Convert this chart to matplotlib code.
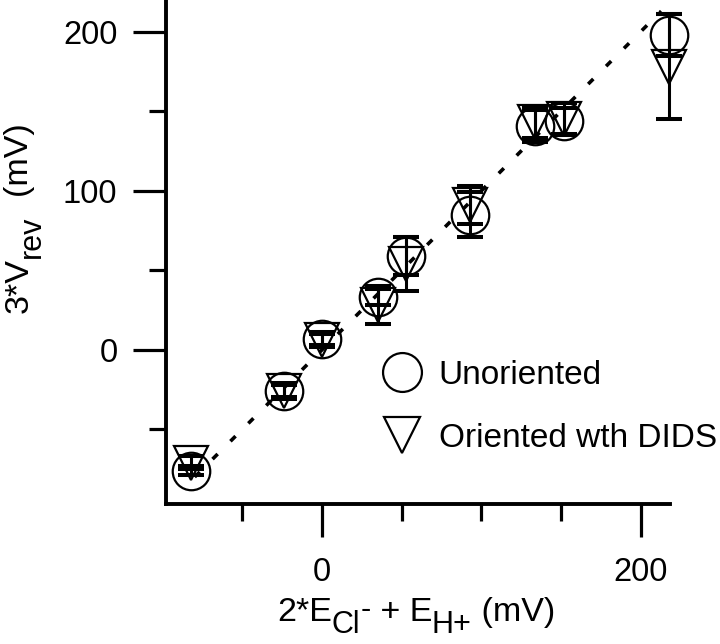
import matplotlib
matplotlib.use("Agg")
import matplotlib.pyplot as plt
from matplotlib.lines import Line2D
from matplotlib.ticker import MultipleLocator

plt.rcParams['font.family'] = ['Liberation Sans', 'DejaVu Sans']

# data
x_vals = [-82, -24, 0, 35, 53, 93, 134, 152, 218]
unoriented_y = [-76, -26, 7, 33, 59, 85, 141, 144, 198]
unoriented_err = [3, 4, 4, 5, 12, 14, 10, 8, 13]
oriented_y = [-71, -26, 6, 28, 54, 91, 143, 145, 178]
oriented_err = [4, 5, 4, 12, 17, 12, 10, 10, 33]
fit_x = [-80, 213]
fit_y = [-80, 213]
labels = ["Unoriented", "Oriented wth DIDS"]

W, H = 720, 644
fig = plt.figure(figsize=(W / 100, H / 100), dpi=100)
ax = fig.add_axes([166 / W, 1 - 504 / H, (670 - 166) / W, (504 - 0) / H])

ax.plot(fit_x, fit_y, color='black', lw=2.6, linestyle=(0, (2, 5.0)),
        dash_capstyle='butt', zorder=1)

ekw = dict(fmt='none', ecolor='black', elinewidth=2.2, capsize=9.5,
           capthick=2.9, zorder=2)
for series_y, series_err in [(unoriented_y, unoriented_err), (oriented_y, oriented_err)]:
    eb = ax.errorbar(x_vals, series_y, yerr=series_err, **ekw)
    for c in eb.get_children():
        c.set_clip_on(False)

ax.plot(x_vals, unoriented_y, 'o', ms=27, mfc='none', mec='black', mew=1.6,
        clip_on=False, zorder=3)
ax.plot(x_vals, oriented_y, 'v', ms=24, mfc='none', mec='black', mew=1.6,
        clip_on=False, zorder=3)

ax.set_xlim(-98, 218.5)
ax.set_ylim(-97, 220)
ax.xaxis.set_major_locator(MultipleLocator(200))
ax.xaxis.set_minor_locator(MultipleLocator(50))
ax.yaxis.set_major_locator(MultipleLocator(100))
ax.yaxis.set_minor_locator(MultipleLocator(50))

for s in ['top', 'right']:
    ax.spines[s].set_visible(False)
for s in ['left', 'bottom']:
    ax.spines[s].set_linewidth(2.8)
ax.tick_params(which='major', length=24, width=2.3, labelsize=23.5)
ax.tick_params(which='minor', length=12, width=2.3)
ax.tick_params(axis='x', which='major', pad=14)
ax.tick_params(axis='y', which='major', pad=11)

renderer = fig.canvas.get_renderer()


def piece_label(pieces, cx, cy, vertical=False):
    """pieces: (text, fontsize, offset_px perpendicular (positive = down))"""
    texts = []
    widths = []
    for s, fs, off in pieces:
        t = fig.text(0, 0, s, fontsize=fs, rotation=90 if vertical else 0,
                     ha='left', va='baseline', rotation_mode='anchor')
        bb = t.get_window_extent(renderer)
        widths.append(bb.height if vertical else bb.width)
        texts.append((t, off))
    total = sum(widths)
    pos = -total / 2
    for (t, off), w in zip(texts, widths):
        if vertical:
            t.set_position(((cx + off) / W, 1 - (cy - pos) / H))
        else:
            t.set_position(((cx + pos) / W, 1 - (cy + off) / H))
        pos += w


# x label
piece_label([("2*E", 24.5, 0), ("Cl", 22, 12), ("-", 22, -3), (" + E", 24.5, 0),
             ("H+", 22, 12), (" (mV)", 24.5, 0)], 416, 621)
# y label (rotated)
piece_label([("3*V", 24.5, 0), ("rev", 22, 12), ("  (mV)", 24.5, 0)], 28, 218,
            vertical=True)

handles = [Line2D([], [], marker='o', ls='none', ms=28, mfc='none', mec='black', mew=1.6),
           Line2D([], [], marker='v', ls='none', ms=26, mfc='none', mec='black', mew=1.6)]
fig.legend(handles, labels, loc='upper left', bbox_to_anchor=(382 / W, 1 - 360 / H),
           frameon=False, fontsize=24, handlelength=1.2, handletextpad=0.5,
           labelspacing=0.95, borderpad=0, borderaxespad=0)

fig.savefig('out.png', dpi=100)
